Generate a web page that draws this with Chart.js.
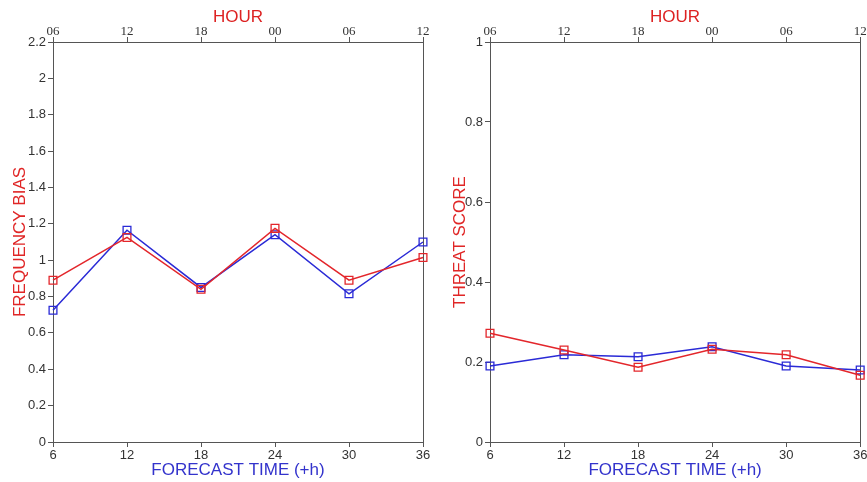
<!DOCTYPE html>
<html>
<head>
<meta charset="utf-8">
<script src="https://cdn.jsdelivr.net/npm/chart.js@4.4.0/dist/chart.umd.min.js"></script>
<style>
    body { margin: 0; background: #fff; width: 867px; height: 482px; overflow: hidden; position: relative; }
    canvas { position: absolute; top: 0; }
    #biasChart { left: 0; }
    #threatChart { left: 434px; }
</style>
</head>
<body>
<canvas id="biasChart" width="434" height="482"></canvas>
<canvas id="threatChart" width="433" height="482"></canvas>
<script>
// Data
const forecastHours = [6, 12, 18, 24, 30, 36];
const hourLabels = ['06', '12', '18', '00', '06', '12'];
const biasRed = [0.89, 1.125, 0.84, 1.175, 0.89, 1.015];
const biasBlue = [0.725, 1.165, 0.85, 1.14, 0.815, 1.10];
const threatRed = [0.272, 0.23, 0.187, 0.232, 0.218, 0.167];
const threatBlue = [0.19, 0.218, 0.213, 0.238, 0.19, 0.18];

const SANS = "'Liberation Sans', Arial, sans-serif";
const SERIF = "'Liberation Serif', 'Times New Roman', serif";
const RED = '#e3262b';
const BLUE = '#2a2ad6';
const AXIS = '#555';

function toPoints(values) {
    return forecastHours.map((h, i) => ({ x: h, y: values[i] }));
}

function lineSet(values, color) {
    return {
        data: toPoints(values),
        borderColor: color,
        backgroundColor: 'rgba(0,0,0,0)',
        borderWidth: 1.5,
        pointStyle: 'rect',
        pointRadius: 5.5,
        pointBorderWidth: 1.3,
        pointBorderColor: color,
        pointBackgroundColor: 'rgba(0,0,0,0)',
        tension: 0,
        clip: false
    };
}

function makeChart(id, cfg) {
    const ctx = document.getElementById(id).getContext('2d');
    return new Chart(ctx, {
        type: 'line',
        data: {
            datasets: [lineSet(cfg.red, RED), lineSet(cfg.blue, BLUE)]
        },
        options: {
            responsive: false,
            animation: false,
            devicePixelRatio: 1,
            layout: { padding: { left: 0, top: 0, bottom: 0, right: cfg.rightPad } },
            plugins: { legend: { display: false }, tooltip: { enabled: false } },
            scales: {
                x: {
                    type: 'linear', position: 'bottom', min: 6, max: 36,
                    ticks: { stepSize: 6, color: '#333', font: { family: SANS, size: 13 }, padding: 1, maxRotation: 0, autoSkip: false },
                    grid: { drawOnChartArea: false, tickLength: 5, color: AXIS },
                    border: { color: AXIS, width: 1 },
                    title: { display: true, text: 'FORECAST TIME (+h)', color: '#3333cc', font: { family: SANS, size: 17 }, padding: { top: 0, bottom: 1 } },
                    afterFit: s => { s.height = 40; s.paddingLeft = 0; s.paddingRight = 0; }
                },
                x2: {
                    type: 'linear', position: 'top', min: 6, max: 36, display: true,
                    ticks: {
                        stepSize: 6, color: '#333', font: { family: SERIF, size: 13 }, padding: -2, maxRotation: 0, autoSkip: false,
                        callback: v => hourLabels[forecastHours.indexOf(v)] ?? ''
                    },
                    grid: { drawOnChartArea: false, tickLength: 5, color: AXIS },
                    border: { color: AXIS, width: 1 },
                    title: { display: true, text: 'HOUR', color: '#dd2222', font: { family: SANS, size: 17 }, padding: { top: 7, bottom: 0 } },
                    afterFit: s => { s.height = 42; s.paddingLeft = 0; s.paddingRight = 0; }
                },
                y: {
                    type: 'linear', position: 'left', min: 0, max: cfg.yMax,
                    ticks: {
                        stepSize: 0.2, color: '#333', font: { family: SANS, size: 13 }, padding: 2,
                        callback: v => String(Number(v.toFixed(1)))
                    },
                    grid: { drawOnChartArea: false, tickLength: 5, color: AXIS },
                    border: { color: AXIS, width: 1 },
                    title: { display: true, text: cfg.yTitle, color: '#e02626', font: { family: SANS, size: 17 }, padding: { top: cfg.titlePad, bottom: 0 } },
                    afterFit: s => { s.width = cfg.leftWidth; s.paddingTop = 0; s.paddingBottom = 0; }
                },
                y2: {
                    type: 'linear', position: 'right', min: 0, max: cfg.yMax, display: true,
                    ticks: { display: false },
                    grid: { drawOnChartArea: false, drawTicks: false },
                    border: { color: AXIS, width: 1 },
                    afterFit: s => { s.width = 0; }
                }
            }
        }
    });
}

makeChart('biasChart', {
    red: biasRed, blue: biasBlue, yMax: 2.2, yTitle: 'FREQUENCY BIAS',
    leftWidth: 53, rightPad: 11, titlePad: 10
});

makeChart('threatChart', {
    red: threatRed, blue: threatBlue, yMax: 1, yTitle: 'THREAT SCORE',
    leftWidth: 56, rightPad: 6, titlePad: 16
});
</script>
</body>
</html>
